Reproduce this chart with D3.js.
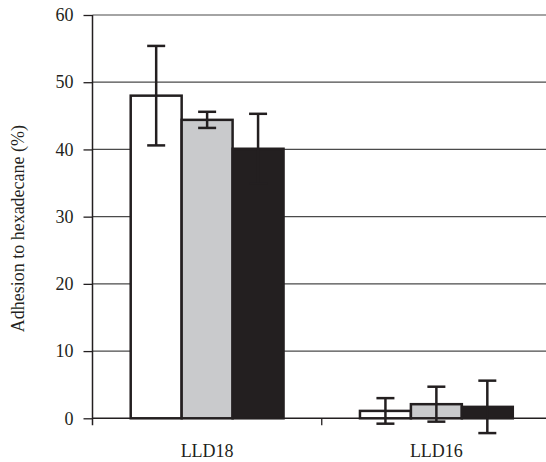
<!DOCTYPE html>
<html>
<head>
<meta charset="utf-8">
<script src="https://cdnjs.cloudflare.com/ajax/libs/d3/7.8.5/d3.min.js"></script>
<style>
  body { margin: 0; background: #fff; }
  text { font-family: "Liberation Serif", "Times New Roman", Times, serif; fill: #231f20; }
</style>
</head>
<body>
<div id="vis"></div>
<script>
var categories = ["LLD18", "LLD16"],
    series = ["s1", "s2", "s3"],
    means = [[48.0, 44.4, 40.1], [1.1, 2.1, 1.7]],
    errors = [[7.4, 1.2, 5.2], [1.9, 2.6, 3.9]],
    yTicks = [0, 10, 20, 30, 40, 50, 60];

var fills = ["#ffffff", "#c9cacc", "#231f20"],
    ink = "#231f20";

var width = 546,
    height = 462,
    plotLeft = 92.5,
    plotTop = 15,
    plotBottom = 418.3;

var svg = d3.select("#vis").append("svg")
    .attr("width", width)
    .attr("height", height);

var y = d3.scaleLinear().domain([0, 60]).range([plotBottom, plotTop]);

var x0 = d3.scaleBand().domain(categories).range([plotLeft, 551]).padding(0);
var gap = x0.bandwidth() / 6;
var x1 = d3.scaleBand().domain(series).range([gap, x0.bandwidth() - gap]).padding(0);

// gridlines
svg.append("g").selectAll("line").data(yTicks.filter(function(d){return d > 0}))
  .enter().append("line")
    .attr("x1", plotLeft).attr("x2", width)
    .attr("y1", function(d){return y(d)}).attr("y2", function(d){return y(d)})
    .attr("stroke", "#4a4a4a").attr("stroke-width", 1.2);

// y axis
var yAxis = svg.append("g")
    .attr("transform", "translate(" + plotLeft + ",0)")
    .call(d3.axisLeft(y).tickValues(yTicks).tickSize(9).tickPadding(10));
yAxis.select(".domain").attr("stroke", ink).attr("stroke-width", 1.5)
    .attr("d", "M0," + (plotBottom + 7) + "V" + plotTop);
yAxis.selectAll(".tick line").attr("stroke", ink).attr("stroke-width", 1.3);
yAxis.selectAll(".tick text").attr("font-size", 18).attr("fill", ink)
    .attr("font-family", "Liberation Serif, serif");

// x axis
var xAxis = svg.append("g")
    .attr("transform", "translate(0," + plotBottom + ")");
xAxis.append("line")
    .attr("x1", plotLeft).attr("x2", width).attr("y1", 0).attr("y2", 0)
    .attr("stroke", ink).attr("stroke-width", 1.5);
xAxis.selectAll(".tk").data(categories).enter().append("line")
    .attr("class", "tk")
    .attr("x1", function(d){return x0(d) + x0.bandwidth()}).attr("x2", function(d){return x0(d) + x0.bandwidth()})
    .attr("y1", 0).attr("y2", 7)
    .attr("stroke", ink).attr("stroke-width", 1.3);
xAxis.selectAll("text").data(categories).enter().append("text")
    .attr("x", function(d){return x0(d) + x0.bandwidth() / 2})
    .attr("y", 39)
    .attr("text-anchor", "middle")
    .attr("font-size", 18)
    .text(function(d){return d});

// bars
var groups = svg.append("g").selectAll("g").data(categories).enter().append("g")
    .attr("transform", function(d){return "translate(" + x0(d) + ",0)"});

function rows(d, i) {
  return series.map(function(s, j){return {s: s, v: means[i][j], e: errors[i][j], j: j}});
}

groups.selectAll("rect").data(rows).enter().append("rect")
    .attr("x", function(d){return x1(d.s)})
    .attr("width", x1.bandwidth())
    .attr("y", function(d){return y(d.v)})
    .attr("height", function(d){return y(0) - y(d.v)})
    .attr("fill", function(d){return fills[d.j]})
    .attr("stroke", ink)
    .attr("stroke-width", 2.5);

// error bars
var err = groups.selectAll(".err").data(rows).enter().append("g").attr("class", "err")
    .attr("stroke", ink).attr("stroke-width", 2.5);

err.append("line")
    .attr("x1", function(d){return x1(d.s) + x1.bandwidth() / 2})
    .attr("x2", function(d){return x1(d.s) + x1.bandwidth() / 2})
    .attr("y1", function(d){return y(d.v + d.e)})
    .attr("y2", function(d){return y(d.v - d.e)});
[1, -1].forEach(function(sign){
  err.append("line")
    .attr("x1", function(d){return x1(d.s) + x1.bandwidth() / 2 - 9})
    .attr("x2", function(d){return x1(d.s) + x1.bandwidth() / 2 + 9})
    .attr("y1", function(d){return y(d.v + sign * d.e)})
    .attr("y2", function(d){return y(d.v + sign * d.e)});
});

// y label
svg.append("text")
    .attr("transform", "translate(24," + ((plotTop + plotBottom) / 2 + 12) + ") rotate(-90)")
    .attr("text-anchor", "middle")
    .attr("font-size", 18)
    .text("Adhesion to hexadecane (%)");
</script>
</body>
</html>
